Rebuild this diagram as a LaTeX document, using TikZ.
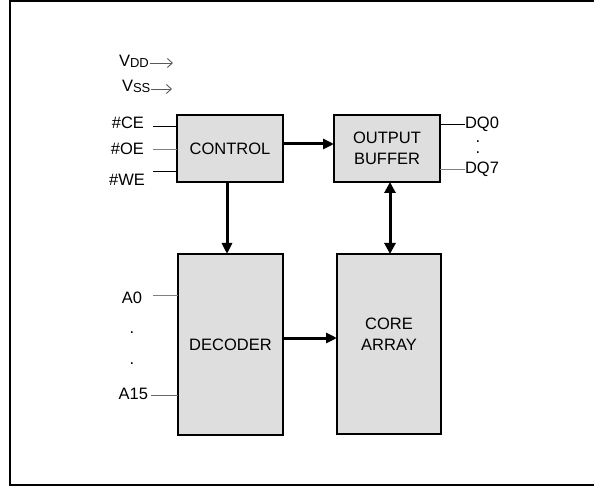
\documentclass[tikz,border=0pt]{standalone}
\usepackage{fontspec}
\setmainfont{Liberation Sans}
\usetikzlibrary{arrows.meta}

\begin{document}
\begin{tikzpicture}[
  x=1pt, y=-1pt,
  font=\fontsize{16.5}{21}\selectfont,
  every node/.style={inner sep=0pt, outer sep=0pt},
  block/.style={draw=black, line width=1.4pt, fill=black!13, align=center},
  pinline/.style={line width=0.9pt},
  bus/.style={line width=3pt, -{Triangle[length=11pt, width=10pt]}},
  supply/.style={draw=black!65, line width=0.9pt, -{Straight Barb[length=5pt, width=9pt]}}
]

% Page size and the frame, whose right side runs off the page.
\useasboundingbox (0,0) rectangle (594,486);
\draw[line width=1.5pt] (10,1) rectangle (604,485);

% The four blocks
\node[block, minimum width=106pt, minimum height=67pt] (control) at (230,148.5) {CONTROL};
\node[block, minimum width=106pt, minimum height=67pt] (obuf) at (387,148.5) {OUTPUT\\BUFFER};
\node[block, minimum width=105pt, minimum height=181pt] (decoder) at (230.5,344.5) {DECODER};
\node[block, minimum width=104pt, minimum height=180pt,
  label={[align=center, yshift=10pt]center:{CORE\\ARRAY}}] (core) at (389,344) {};

% Supply pins
\node[anchor=west] (vdd) at (119,61) {V\raisebox{-1pt}{\fontsize{13}{13}\selectfont DD}};
\node[anchor=west] (vss) at (122,86) {V\raisebox{-1pt}{\fontsize{13}{13}\selectfont SS}};
\coordinate (vdd tip) at (173,63);
\coordinate (vss tip) at (172,89);
\draw[supply] ([xshift=1pt]vdd.east |- vdd tip) -- (vdd tip);
\draw[supply] ([xshift=1pt]vss.east |- vss tip) -- (vss tip);

% Control inputs
\node[anchor=east] (ce) at (144,122.5) {\#CE};
\node[anchor=east] (oe) at (144,149) {\#OE};
\node[anchor=east] (we) at (145,180) {\#WE};
\coordinate (ce end) at (153,126);
\coordinate (oe end) at (153,149);
\coordinate (we end) at (153,171);
\draw[pinline] (ce end) -- (ce end -| control.west);
\draw[pinline, black!50] (oe end) -- (oe end -| control.west);
\draw[pinline] (we end) -- (we end -| control.west);

% Address inputs
\node[anchor=east] (a0) at (142,297.5) {A0};
\node (adot1) at (132,333) {.};
\node (adot2) at (132,364) {.};
\node[anchor=east] (a15) at (148,394) {A15};
\coordinate (a0 end) at (153,295);
\coordinate (a15 end) at (151,395);
\draw[pinline, black!50] (a0 end) -- (a0 end -| decoder.west);
\draw[pinline, black!60] (a15 end) -- (a15 end -| decoder.west);

% Data outputs
\node[anchor=west] (dq0) at (465,124) {DQ0};
\node (dqdot1) at (478,142) {.};
\node (dqdot2) at (478,153) {.};
\node[anchor=west] (dq7) at (465,169.5) {DQ7};
\draw[pinline] (dq0.west -| obuf.east) -- (dq0.west);
\draw[pinline, black!50] (dq7.west -| obuf.east) -- (dq7.west);

% Internal buses
\draw[bus] ([yshift=4.5pt]control.east) -- ([yshift=4.5pt]control.east -| obuf.west);
\draw[bus] ([xshift=-3pt]control.south) -- ([xshift=-3pt]control.south |- decoder.north);
\draw[bus, {Triangle[length=11pt, width=11pt]}-{Triangle[length=11pt, width=11pt]}]
  ([xshift=3pt]obuf.south) -- ([xshift=3pt]obuf.south |- core.north);
\draw[bus] ([yshift=6.5pt]decoder.east) -- ([yshift=6.5pt]decoder.east -| core.west);

\end{tikzpicture}
\end{document}
